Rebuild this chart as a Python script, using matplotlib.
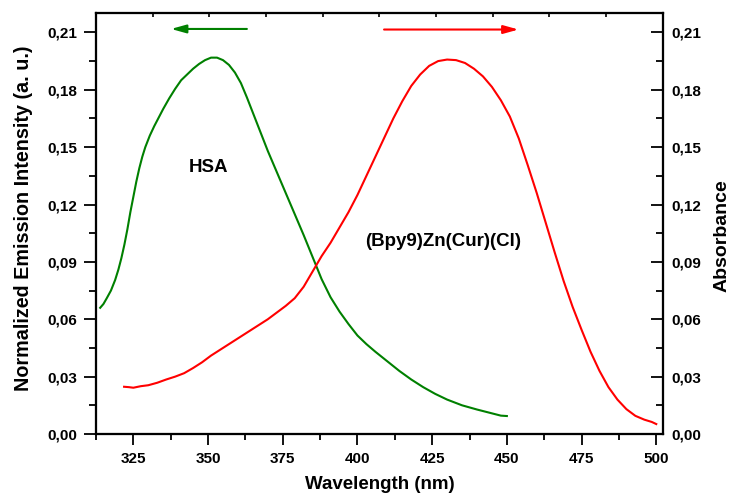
import matplotlib
matplotlib.use("Agg")
import matplotlib.pyplot as plt
from matplotlib.ticker import MultipleLocator, FuncFormatter

plt.rcParams['font.family'] = ['Liberation Sans', 'DejaVu Sans']
plt.rcParams['font.weight'] = 'bold'

# HSA emission (green)
hsa_x = [313.9, 315.0, 316.1, 317.5, 318.9, 320.0, 321.0, 322.0, 323.0, 324.0, 325.0,
         326.0, 327.0, 328.0, 329.0, 330.5, 332.0, 333.5, 335.0, 337.0, 339.0, 341.0,
         343.0, 345.0, 347.0, 349.0, 351.0, 353.0, 355.0, 357.0, 359.0, 361.0, 363.0,
         365.0, 367.5, 370.0, 373.0, 376.0, 379.0, 382.0, 385.0, 388.0, 391.0, 394.0,
         397.0, 400.0, 403.0, 406.0, 410.0, 414.0, 418.0, 422.0, 426.0, 430.0, 435.0,
         440.0, 445.0, 448.0, 450.0]
hsa_y = [0.066, 0.068, 0.071, 0.075, 0.0805, 0.086, 0.092, 0.099, 0.107, 0.116, 0.124,
         0.132, 0.139, 0.145, 0.150, 0.156, 0.161, 0.1655, 0.170, 0.1755, 0.1805, 0.185,
         0.188, 0.191, 0.1935, 0.1955, 0.1968, 0.1968, 0.1955, 0.1930, 0.1890, 0.1835,
         0.1760, 0.1680, 0.1580, 0.1480, 0.1370, 0.1260, 0.1150, 0.1040, 0.0925, 0.0810,
         0.0715, 0.0640, 0.0575, 0.0515, 0.0470, 0.0430, 0.0380, 0.0330, 0.0285, 0.0245,
         0.0210, 0.0180, 0.0150, 0.0128, 0.0108, 0.0096, 0.0094]

# (Bpy9)Zn(Cur)(Cl) absorbance (red)
cplx_x = [321.9, 323.5, 325.0, 327.5, 330.0, 333.0, 336.0, 339.0, 342.0, 345.0, 348.0,
          351.0, 354.0, 357.0, 360.0, 363.5, 367.0, 370.0, 373.0, 376.0, 379.0, 382.0,
          385.0, 388.0, 391.0, 394.0, 397.0, 400.0, 403.0, 406.0, 409.0, 412.0, 415.0,
          418.0, 421.0, 424.0, 427.0, 430.0, 433.0, 436.0, 439.0, 442.0, 445.0, 448.0,
          451.0, 454.0, 457.0, 460.0, 463.0, 466.0, 469.0, 472.0, 475.0, 478.0, 481.0,
          484.0, 487.0, 490.0, 493.0, 496.0, 498.5, 500.0]
cplx_y = [0.0247, 0.0245, 0.0242, 0.0250, 0.0255, 0.0268, 0.0285, 0.0300, 0.0318, 0.0345,
          0.0375, 0.0410, 0.0440, 0.0470, 0.0500, 0.0535, 0.0570, 0.0600, 0.0635, 0.0670,
          0.0710, 0.0770, 0.0850, 0.0930, 0.1000, 0.1080, 0.1160, 0.1250, 0.1350, 0.1450,
          0.1550, 0.1650, 0.1740, 0.1820, 0.1880, 0.1925, 0.1950, 0.1958, 0.1955, 0.1940,
          0.1910, 0.1870, 0.1815, 0.1745, 0.1660, 0.1545, 0.1405, 0.1260, 0.1105, 0.0950,
          0.0800, 0.0665, 0.0545, 0.0430, 0.0330, 0.0245, 0.0180, 0.0130, 0.0095, 0.0075,
          0.0063, 0.0052]

x_ticks = [325, 350, 375, 400, 425, 450, 475, 500]
y_ticks = [0.00, 0.03, 0.06, 0.09, 0.12, 0.15, 0.18, 0.21]

green = '#008000'
red = '#ff0000'

fig = plt.figure(figsize=(7.3, 5.0), dpi=100)
ax = fig.add_axes([0.1315, 0.132, 0.7765, 0.8426])
axr = ax.twinx()
axt = ax.twiny()

ax.plot(hsa_x, hsa_y, color=green, lw=1.5)
axr.plot(cplx_x, cplx_y, color=red, lw=1.5)

xlim = (312.5, 502.2)
ylim = (0.0, 0.2203)
for a in (ax, axr):
    a.set_xlim(*xlim)
    a.set_ylim(*ylim)
axt.set_xlim(0, 10)
axt.set_xticks(range(1, 10))
axt.tick_params(axis='x', direction='in', length=3, width=1.2, labeltop=False)

fmt = FuncFormatter(lambda v, p: ('%.2f' % v).replace('.', ','))
ax.set_xticks(x_ticks)
ax.xaxis.set_minor_locator(MultipleLocator(12.5))
ax.set_yticks(y_ticks)
ax.yaxis.set_minor_locator(MultipleLocator(0.015))
ax.yaxis.set_major_formatter(fmt)
axr.set_yticks(y_ticks)
axr.yaxis.set_minor_locator(MultipleLocator(0.015))
axr.yaxis.set_major_formatter(fmt)

ax.tick_params(axis='x', which='major', direction='out', length=8, width=1.3, labelsize=11, pad=5)
ax.tick_params(axis='x', which='minor', direction='out', length=4, width=1.3)
ax.tick_params(axis='y', which='major', direction='out', length=9, width=1.3, labelsize=11, pad=4.5)
ax.tick_params(axis='y', which='minor', direction='out', length=5, width=1.3)
axr.tick_params(axis='y', which='major', direction='in', length=9, width=1.3, labelsize=11, pad=6)
axr.tick_params(axis='y', which='minor', direction='in', length=5, width=1.3)

for a in (ax, axr, axt):
    for s in a.spines.values():
        s.set_linewidth(1.5)

ax.set_xlabel('Wavelength (nm)', fontsize=13.5, fontweight='bold')
ax.xaxis.set_label_coords(0.5, -0.100)
ax.set_ylabel('Normalized Emission Intensity (a. u.)', fontsize=14.2, fontweight='bold')
ax.yaxis.set_label_coords(-0.111, 0.512)
axr.set_ylabel('Absorbance', fontsize=14, fontweight='bold')
axr.yaxis.set_label_coords(1.089, 0.472)

ax.text(350, 0.1396, 'HSA', fontsize=13.5, fontweight='bold', ha='center', va='center')
ax.text(428.7, 0.1006, '(Bpy9)Zn(Cur)(Cl)', fontsize=13.5, fontweight='bold', ha='center', va='center')

ax.annotate('', xy=(337.6, 0.2118), xytext=(363.0, 0.2118),
            arrowprops=dict(arrowstyle='-|>,head_length=0.9,head_width=0.25', color=green,
                            lw=1.5, shrinkA=0, shrinkB=0, mutation_scale=10))
ax.annotate('', xy=(453.9, 0.2115), xytext=(408.9, 0.2115),
            arrowprops=dict(arrowstyle='-|>,head_length=0.9,head_width=0.25', color=red,
                            lw=1.5, shrinkA=0, shrinkB=0, mutation_scale=10))

fig.savefig('out.png', dpi=100)
